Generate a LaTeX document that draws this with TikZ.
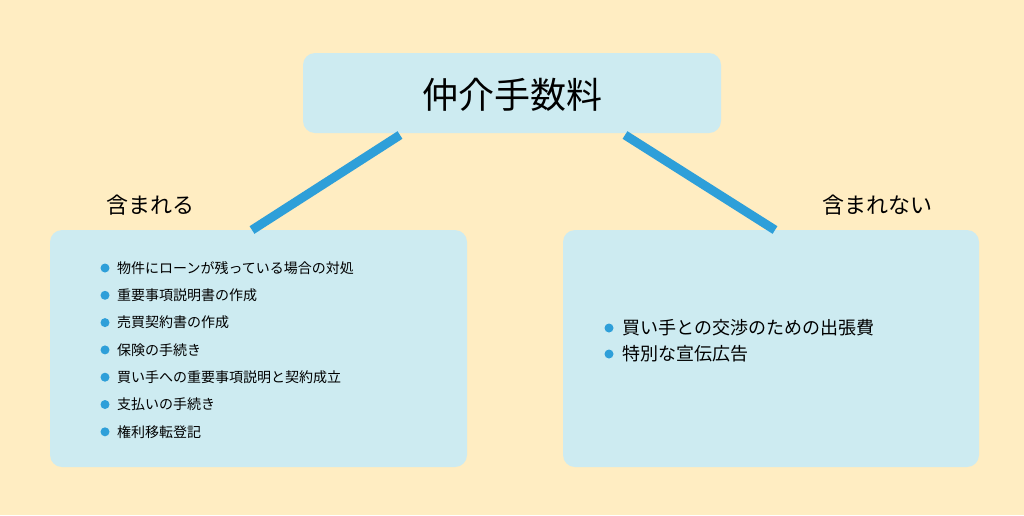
\documentclass[tikz,border=0pt]{standalone}
\usepackage{fontspec}
\setmainfont{Noto Sans CJK JP}
\definecolor{bg}{HTML}{FFEDC2}
\definecolor{boxc}{HTML}{CDEBF1}
\definecolor{linec}{HTML}{2E9FD9}
\begin{document}
\begin{tikzpicture}[x=1pt,y=-1pt,
  box/.style={fill=boxc,rounded corners=12pt,draw=none},
  conn/.style={draw=linec,line width=9pt},
  item/.style={anchor=west,inner sep=0pt,font=\fontsize{14}{16}\selectfont},
  ritem/.style={anchor=west,inner sep=0pt,font=\fontsize{18}{20}\selectfont},
  dot/.style={circle,fill=linec,inner sep=0pt,minimum size=9pt}]
\fill[bg] (0,0) rectangle (1024,515);
\useasboundingbox (0,0) rectangle (1024,515);
\node[box,minimum width=418pt,minimum height=80pt] (top) at (512,93) {};
\node[font=\fontsize{36}{40}\selectfont] (title) at (512,95) {仲介手数料};
\node[box,minimum width=417pt,minimum height=237pt] (L) at (258.5,348.5) {};
\node[box,minimum width=416pt,minimum height=237pt] (R) at (771,348.5) {};
\coordinate (t1) at (400,135); \coordinate (t2) at (625,135);
\coordinate (l1) at (252,230); \coordinate (r1) at (775,230);
\draw[conn] (t1) -- (l1);
\draw[conn] (t2) -- (r1);
\node[font=\fontsize{22}{24}\selectfont] (lin) at (150,205) {含まれる};
\node[font=\fontsize{22}{24}\selectfont] (rin) at (877,205) {含まれない};
\foreach \t [count=\i] in {物件にローンが残っている場合の対処,重要事項説明書の作成,売買契約書の作成,保険の手続き,買い手への重要事項説明と契約成立,支払いの手続き,権利移転登記}{
  \node[dot] (d\i) at (105,{268+27.3*(\i-1)}) {};
  \node[item] (i\i) at (117,{268+27.3*(\i-1)}) {\t};
}
\node[dot] (rd1) at (609,328) {};
\node[ritem] (ri1) at (622,328) {買い手との交渉のための出張費};
\node[dot] (rd2) at (609,354) {};
\node[ritem] (ri2) at (622,354) {特別な宣伝広告};
\end{tikzpicture}
\end{document}
